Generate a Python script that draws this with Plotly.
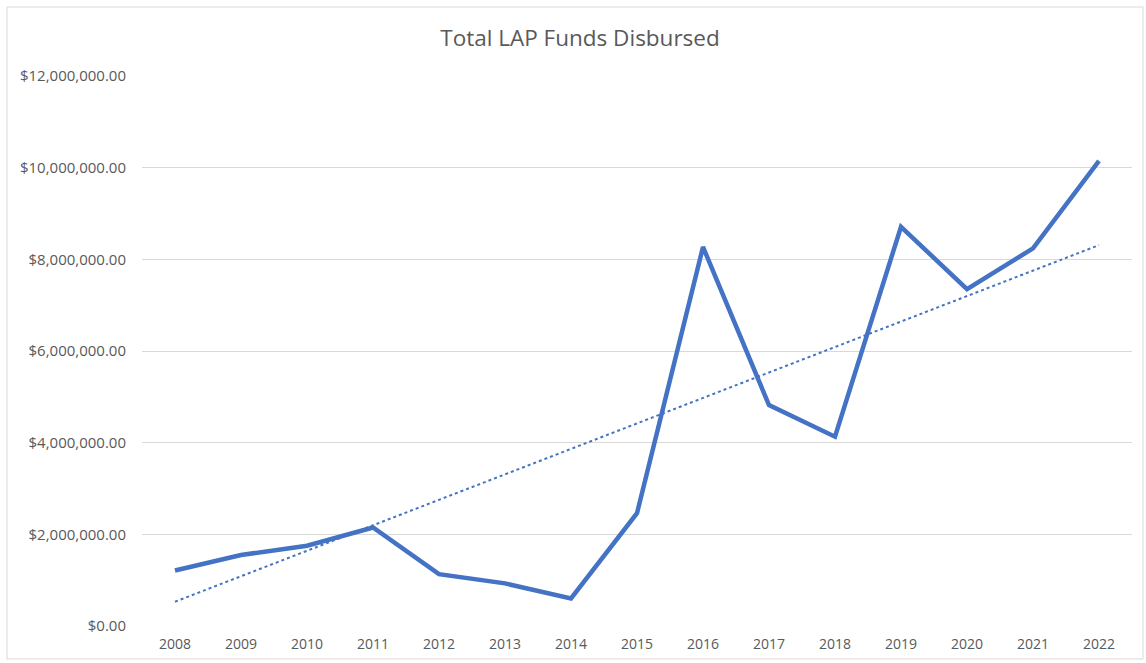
import plotly.graph_objects as go

years = ["2008", "2009", "2010", "2011", "2012", "2013", "2014", "2015",
         "2016", "2017", "2018", "2019", "2020", "2021", "2022"]
funds = [1.21e6, 1.55e6, 1.75e6, 2.15e6, 1.13e6, 0.93e6, 0.60e6, 2.46e6,
         8.27e6, 4.82e6, 4.13e6, 8.71e6, 7.35e6, 8.24e6, 10.15e6]
trend_years = ["2008", "2022"]
trend_values = [0.53e6, 8.31e6]

y_ticks = [0, 2e6, 4e6, 6e6, 8e6, 10e6, 12e6]
y_tick_labels = ["$%s" % format(v, ",.2f") for v in y_ticks]

idx = {y: i for i, y in enumerate(years)}

fig = go.Figure()
fig.add_trace(go.Scatter(
    x=[idx[y] for y in years], y=funds, mode="lines",
    line=dict(color="#4472C4", width=4.5), name="Total",
    showlegend=False, hoverinfo="skip"))
fig.add_trace(go.Scatter(
    x=[idx[y] for y in trend_years], y=trend_values, mode="lines",
    line=dict(color="#4472C4", width=2, dash="dot"), name="Trend",
    showlegend=False, hoverinfo="skip"))

font_family = "'Open Sans', Lato, sans-serif"
fig.update_layout(
    width=1146, height=663,
    margin=dict(l=142, r=14, t=76, b=37, pad=0, autoexpand=False),
    paper_bgcolor="white", plot_bgcolor="white",
    title=dict(text="Total LAP Funds Disbursed", x=580 / 1146, xanchor="center",
               y=1 - 38 / 663, yanchor="middle", yref="container",
               font=dict(family=font_family, size=22.5, color="#595959")),
    xaxis=dict(range=[-0.5, 14.5], tickmode="array",
               tickvals=list(range(len(years))), ticktext=years,
               showgrid=False, zeroline=False, showline=False, ticks="",
               ticklabelstandoff=8, automargin=False,
               tickfont=dict(family=font_family, size=14, color="#595959")),
    yaxis=dict(range=[0, 12e6], tickmode="array", tickvals=y_ticks,
               ticktext=y_tick_labels, showgrid=True, gridcolor="#D9D9D9",
               gridwidth=1, zeroline=False, showline=False, ticks="",
               ticklabelstandoff=15, automargin=False,
               tickfont=dict(family=font_family, size=15, color="#595959")),
    shapes=[dict(type="rect", xref="paper", yref="paper",
                 x0=(7 - 142) / 990, x1=(1143 - 142) / 990,
                 y0=(626 - 659) / 550, y1=(626 - 7) / 550,
                 line=dict(color="#D9D9D9", width=1), layer="below")],
)

fig.write_html("out.html")
